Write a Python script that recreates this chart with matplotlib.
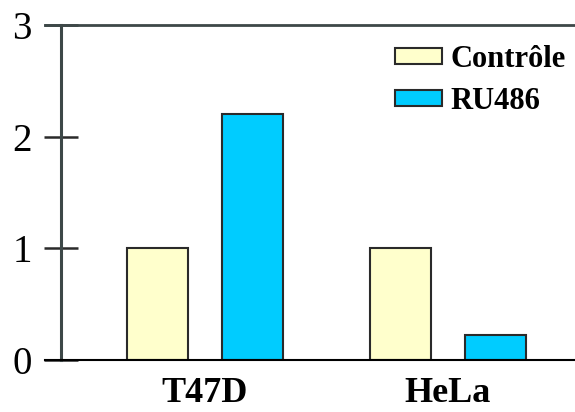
import matplotlib
matplotlib.use("Agg")
import matplotlib.pyplot as plt
import numpy as np

categories = ["T47D", "HeLa"]
series_names = ["Contrôle", "RU486"]
controle = [1.0, 1.0]
ru486 = [2.2, 0.22]
yticks = [0, 1, 2, 3]

plt.rcParams['font.family'] = ['Liberation Serif', 'DejaVu Serif']

fig = plt.figure(figsize=(5.75, 4.12), dpi=100)
ax = fig.add_axes([61/575, 52/412, (575-61)/575, 335/412])

x = np.arange(len(categories))
w = 0.251
off = 0.195
edge = '#2a2a2a'
ax.bar(x - off, controle, w, color='#ffffcc', edgecolor=edge, linewidth=1.5, label=series_names[0])
ax.bar(x + off, ru486, w, color='#00ccff', edgecolor=edge, linewidth=1.5, label=series_names[1])

ax.set_xlim(-0.593, 1.523)
ax.set_ylim(0, 3)
ax.set_yticks(yticks)
ax.set_yticklabels([str(t) for t in yticks], fontsize=28)
ax.set_xticks(x)
ax.set_xticklabels(categories, fontsize=26, fontweight='bold')

ax.spines['right'].set_visible(False)
ax.spines['left'].set_color('#3d4848')
ax.spines['left'].set_linewidth(2.2)
ax.spines['top'].set_color('#3d4848')
ax.spines['top'].set_linewidth(2.0)
ax.spines['bottom'].set_color('black')
ax.spines['bottom'].set_linewidth(1.5)

ax.tick_params(axis='y', direction='inout', length=24, width=1.8, color='#2a2a2a', pad=9)
ax.tick_params(axis='x', length=0, pad=12)
ax.plot([-0.593 - 16/243, -0.593], [0, 0], color='black', lw=1.5, clip_on=False)
ax.plot([-0.593 - 16/243, -0.593], [3, 3], color='#3d4848', lw=2.0, clip_on=False)

leg = ax.legend(loc='upper left', bbox_to_anchor=((395-61)/514, (412-45-52)/335),
                frameon=False, prop={'weight': 'bold', 'size': 22},
                handlelength=1.55, handleheight=0.45, handletextpad=0.25,
                labelspacing=0.42, borderaxespad=0, borderpad=0)

fig.savefig("out.png", dpi=100)
